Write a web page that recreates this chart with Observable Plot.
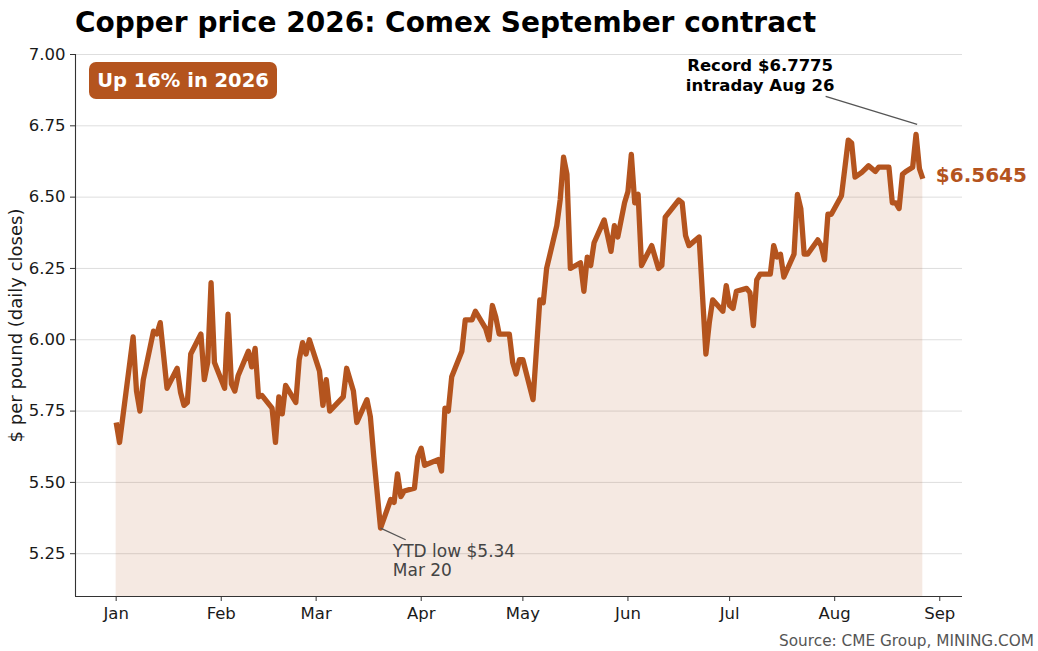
<!DOCTYPE html>
<html><head><meta charset="utf-8">
<script src="https://cdn.jsdelivr.net/npm/d3@7"></script>
<script src="https://cdn.jsdelivr.net/npm/@observablehq/plot@0.6"></script>
<style>
body{margin:0;background:#fff;font-family:"DejaVu Sans",sans-serif;}
#wrap{position:relative;width:1038px;height:651px;overflow:hidden;}
#chart{position:absolute;left:0;top:0;}
.title{position:absolute;left:75px;top:9px;font-size:28px;line-height:28px;font-weight:bold;color:#000;white-space:nowrap;}
.badge{position:absolute;left:89px;top:62px;width:188px;height:37px;line-height:37px;background:#b4541e;border-radius:7px;color:#fff;font-weight:bold;font-size:19.5px;text-align:center;white-space:nowrap;}
.source{position:absolute;right:4px;top:633px;font-size:15.3px;line-height:16px;color:#555;white-space:nowrap;}
</style></head><body>
<div id="wrap">
  <div id="chart"></div>
  <div class="title">Copper price 2026: Comex September contract</div>
  <div class="badge">Up 16% in 2026</div>
  <div class="source">Source: CME Group, MINING.COM</div>
</div>
<script>
const dates = [
"2026-01-01","2026-01-02","2026-01-06","2026-01-07","2026-01-08","2026-01-09","2026-01-12","2026-01-13","2026-01-14","2026-01-16",
"2026-01-19","2026-01-20","2026-01-21","2026-01-22","2026-01-23","2026-01-26","2026-01-27","2026-01-28","2026-01-29","2026-01-30",
"2026-02-02","2026-02-03","2026-02-04","2026-02-05","2026-02-06","2026-02-09","2026-02-10","2026-02-11","2026-02-12","2026-02-13",
"2026-02-16","2026-02-17","2026-02-18","2026-02-19","2026-02-20","2026-02-23","2026-02-24","2026-02-25","2026-02-26","2026-02-27",
"2026-03-02","2026-03-03","2026-03-04","2026-03-05","2026-03-09","2026-03-10","2026-03-12","2026-03-13","2026-03-16","2026-03-17",
"2026-03-18","2026-03-20","2026-03-23","2026-03-24","2026-03-25","2026-03-26","2026-03-27","2026-03-30","2026-03-31","2026-04-01",
"2026-04-02","2026-04-06","2026-04-07","2026-04-08","2026-04-09","2026-04-10","2026-04-13","2026-04-14","2026-04-16","2026-04-17",
"2026-04-20","2026-04-21","2026-04-22","2026-04-23","2026-04-24","2026-04-27","2026-04-28","2026-04-29","2026-04-30","2026-05-01",
"2026-05-04","2026-05-06","2026-05-07","2026-05-08","2026-05-11","2026-05-12","2026-05-13","2026-05-14","2026-05-15","2026-05-18",
"2026-05-19","2026-05-20","2026-05-21","2026-05-22","2026-05-25","2026-05-27","2026-05-28","2026-05-29","2026-05-31","2026-06-01",
"2026-06-02","2026-06-03","2026-06-04","2026-06-05","2026-06-08","2026-06-10","2026-06-11","2026-06-12","2026-06-16","2026-06-17",
"2026-06-18","2026-06-19","2026-06-22","2026-06-24","2026-06-25","2026-06-26","2026-06-29","2026-06-30","2026-07-01","2026-07-02",
"2026-07-03","2026-07-06","2026-07-07","2026-07-08","2026-07-09","2026-07-10","2026-07-13","2026-07-14","2026-07-15","2026-07-16",
"2026-07-17","2026-07-20","2026-07-21","2026-07-22","2026-07-23","2026-07-24","2026-07-27","2026-07-28","2026-07-29","2026-07-30",
"2026-07-31","2026-08-03","2026-08-05","2026-08-06","2026-08-07","2026-08-09","2026-08-11","2026-08-13","2026-08-14","2026-08-17",
"2026-08-18","2026-08-19","2026-08-20","2026-08-21","2026-08-22","2026-08-24","2026-08-25","2026-08-26","2026-08-27"
];
const closes = [
5.71,5.64,6.01,5.82,5.75,5.86,6.03,6.02,6.06,5.83,
5.90,5.815,5.77,5.78,5.95,6.02,5.86,5.92,6.20,5.92,
5.83,6.09,5.845,5.82,5.875,5.96,5.905,5.97,5.80,5.805,
5.76,5.64,5.80,5.74,5.84,5.78,5.93,5.99,5.95,6.00,
5.89,5.77,5.86,5.75,5.80,5.90,5.82,5.71,5.79,5.73,
5.59,5.34,5.44,5.43,5.53,5.45,5.47,5.48,5.59,5.62,
5.56,5.58,5.54,5.76,5.75,5.87,5.96,6.07,6.07,6.10,
6.04,6.00,6.12,6.08,6.02,6.02,5.92,5.88,5.93,5.93,
5.79,6.14,6.13,6.25,6.40,6.49,6.64,6.58,6.25,6.27,
6.17,6.29,6.26,6.34,6.42,6.31,6.40,6.36,6.48,6.52,
6.65,6.48,6.51,6.26,6.33,6.25,6.26,6.43,6.49,6.48,
6.365,6.33,6.36,5.95,6.06,6.14,6.10,6.19,6.12,6.11,
6.17,6.18,6.165,6.05,6.21,6.23,6.23,6.33,6.29,6.30,
6.22,6.30,6.51,6.46,6.30,6.30,6.35,6.33,6.28,6.44,
6.44,6.505,6.70,6.69,6.57,6.587,6.61,6.59,6.605,6.605,
6.48,6.48,6.46,6.58,6.59,6.605,6.72,6.60,6.5645
];
const yTicks = [5.25, 5.50, 5.75, 6.00, 6.25, 6.50, 6.75, 7.00];
const yDomain = [5.10, 7.00];
const monthTicks = ["2026-01-01","2026-02-01","2026-03-01","2026-04-01","2026-05-01","2026-06-01","2026-07-01","2026-08-01","2026-09-01"];
const xDomain = ["2025-12-20T00:00Z", "2026-09-07T17:00Z"];
const yLabel = "$ per pound (daily closes)";
const recordNote = [{date: "2026-07-10T00:00Z", value: 6.93, text: "Record $6.7775\nintraday Aug 26"}];
const recordArrow = [{x1: "2026-07-29T08:00Z", y1: 6.853, x2: "2026-08-25T08:00Z", y2: 6.755}];
const lowNote = [{date: "2026-03-23T15:00Z", value: 5.283, text: "YTD low $5.34\nMar 20"}];
const lowArrow = [{x1: "2026-03-20", y1: 5.34, x2: "2026-03-27T10:00Z", y2: 5.299}];

const copper = "#b4541e";
const ink = "#1a1a1a";
const data = dates.map((d, i) => ({date: new Date(d), close: closes[i]}));
const last = data[data.length - 1];
const P = s => new Date(s);

const chart = Plot.plot({
  width: 1038,
  height: 651,
  marginLeft: 75,
  marginRight: 76,
  marginTop: 54,
  marginBottom: 55,
  style: {fontFamily: "DejaVu Sans, sans-serif", fontSize: "16.5px", color: ink, background: "transparent", overflow: "visible"},
  x: {type: "utc", domain: xDomain.map(P)},
  y: {domain: yDomain},
  marks: [
    Plot.gridY(yTicks, {stroke: "#dedede", strokeOpacity: 1, strokeWidth: 1}),
    Plot.areaY(data, {x: "date", y1: yDomain[0], y2: "close", fill: copper, fillOpacity: 0.13}),
    Plot.lineY(data, {x: "date", y: "close", stroke: copper, strokeWidth: 5.3, strokeLinejoin: "round", strokeLinecap: "butt"}),
    Plot.ruleX([P(xDomain[0])], {stroke: "#333", strokeWidth: 1.1}),
    Plot.ruleY([yDomain[0]], {stroke: "#333", strokeWidth: 1.1}),
    Plot.axisY(yTicks, {tickFormat: d3.format(".2f"), tickSize: 5, tickPadding: 5, label: null, stroke: "#333", fill: ink}),
    Plot.axisX(monthTicks.map(P), {tickFormat: d3.utcFormat("%b"), tickSize: 5, tickPadding: 5.5, label: null, stroke: "#333", fill: ink}),
    Plot.text([yLabel], {frameAnchor: "left", rotate: -90, dx: -59, fontSize: 18, textAnchor: "middle", lineAnchor: "middle", fill: ink}),
    Plot.text([last], {x: "date", y: "close", text: d => "$" + d.close.toFixed(4), dx: 13, dy: -3, textAnchor: "start", fontSize: 20, fontWeight: "bold", fill: copper}),
    Plot.link(recordArrow, {x1: d => P(d.x1), y1: "y1", x2: d => P(d.x2), y2: "y2", stroke: "#555", strokeWidth: 1.3}),
    Plot.text(recordNote, {x: d => P(d.date), y: "value", text: "text", textAnchor: "middle", lineAnchor: "middle", lineHeight: 1.212, fontSize: 16.5, fontWeight: "bold", fill: "#000"}),
    Plot.link(lowArrow, {x1: d => P(d.x1), y1: "y1", x2: d => P(d.x2), y2: "y2", stroke: "#555", strokeWidth: 1.3}),
    Plot.text(lowNote, {x: d => P(d.date), y: "value", text: "text", textAnchor: "start", lineAnchor: "top", lineHeight: 1.08, fontSize: 17, fill: "#444"})
  ]
});
document.getElementById("chart").appendChild(chart);
</script>
</body></html>
